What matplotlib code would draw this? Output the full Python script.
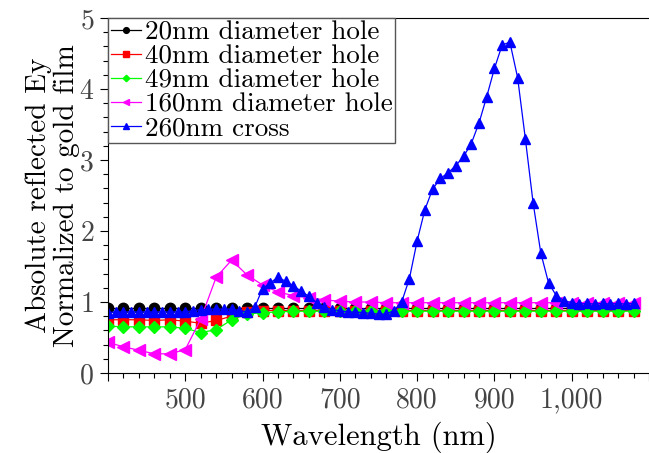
import matplotlib
matplotlib.use('Agg')
import matplotlib.pyplot as plt
from matplotlib.ticker import MultipleLocator, FuncFormatter

# wavelength grids (nm)
wl_hole = list(range(400, 1090, 20))
wl_cross = list(range(400, 1090, 10))

hole_20 = [0.92, 0.92, 0.92, 0.92, 0.92, 0.92, 0.92, 0.92, 0.92, 0.92,
           0.92, 0.92, 0.92, 0.92, 0.92, 0.92, 0.92, 0.92, 0.92, 0.92,
           0.92, 0.92, 0.92, 0.92, 0.92, 0.92, 0.92, 0.92, 0.92, 0.92,
           0.92, 0.92, 0.92, 0.92, 0.92]
hole_40 = [0.75, 0.75, 0.75, 0.74, 0.75, 0.73, 0.70, 0.74, 0.80, 0.86,
           0.88, 0.88, 0.88, 0.88, 0.88, 0.88, 0.88, 0.88, 0.88, 0.88,
           0.88, 0.88, 0.88, 0.88, 0.88, 0.88, 0.88, 0.88, 0.88, 0.88,
           0.88, 0.88, 0.88, 0.88, 0.88]
hole_49 = [0.66, 0.65, 0.65, 0.65, 0.65, 0.63, 0.57, 0.61, 0.75, 0.83,
           0.85, 0.86, 0.87, 0.87, 0.87, 0.87, 0.87, 0.87, 0.87, 0.87,
           0.87, 0.87, 0.87, 0.87, 0.87, 0.87, 0.87, 0.87, 0.87, 0.87,
           0.87, 0.87, 0.87, 0.87, 0.87]
hole_160 = [0.43, 0.37, 0.32, 0.27, 0.27, 0.33, 0.76, 1.35, 1.59, 1.38,
            1.24, 1.14, 1.09, 1.06, 1.03, 1.01, 1.00, 1.00, 0.99, 0.99,
            0.99, 0.99, 0.99, 0.99, 0.99, 0.99, 0.99, 0.99, 0.99, 0.99,
            0.99, 0.99, 0.99, 0.99, 0.99]
cross_260 = [0.85, 0.86, 0.86, 0.86, 0.86, 0.86, 0.86, 0.86, 0.86, 0.86,
             0.86, 0.88, 0.89, 0.90, 0.90, 0.90, 0.90, 0.88, 0.86, 0.93,
             1.19, 1.27, 1.35, 1.29, 1.23, 1.15, 1.08, 0.99, 0.93, 0.89,
             0.88, 0.86, 0.86, 0.85, 0.84, 0.83, 0.83, 0.88, 1.00, 1.33,
             1.86, 2.30, 2.59, 2.74, 2.82, 2.92, 3.05, 3.23, 3.52, 3.89,
             4.29, 4.62, 4.66, 4.16, 3.30, 2.40, 1.69, 1.27, 1.09, 1.02,
             0.99, 0.97, 0.98, 0.97, 0.98, 0.97, 0.98, 0.97, 0.98]

labels = ['20nm diameter hole', '40nm diameter hole', '49nm diameter hole',
          '160nm diameter hole', '260nm cross']

plt.rcParams['font.family'] = ['cmr10', 'DejaVu Serif']
plt.rcParams['axes.formatter.use_mathtext'] = True

fig = plt.figure(figsize=(6.49, 4.53), dpi=100)
ax = fig.add_axes([108/649, 80/453, 1 - 108/649, (373 - 18)/453])

ax.plot(wl_hole, hole_20, color='black', marker='o', ms=7.5, lw=0.9, label=labels[0])
ax.plot(wl_hole, hole_40, color='red', marker='s', ms=7.5, lw=0.9, label=labels[1])
ax.plot(wl_hole, hole_49, color='#00ff00', marker='D', ms=6, lw=0.9, label=labels[2])
ax.plot(wl_hole, hole_160, color='magenta', marker='<', ms=8, lw=0.9, label=labels[3])
ax.plot(wl_cross, cross_260, color='blue', marker='^', ms=7, lw=0.9, label=labels[4])

ax.set_xlim(400, 1100)
ax.set_ylim(0, 5)
ax.xaxis.set_major_locator(MultipleLocator(100))
ax.xaxis.set_minor_locator(MultipleLocator(20))
ax.yaxis.set_major_locator(MultipleLocator(1))
ax.yaxis.set_minor_locator(MultipleLocator(0.2))
ax.xaxis.set_major_formatter(FuncFormatter(lambda v, p: '' if v <= 400 or v >= 1100 else '{:,.0f}'.format(v)))
ax.tick_params(which='major', length=6, width=0.8, labelsize=20, labelcolor='#444444', pad=4)
ax.tick_params(which='minor', length=3.5, width=0.8)
ax.spines['right'].set_visible(False)

ax.set_xlabel('Wavelength (nm)', fontsize=22, labelpad=6)
ax.set_ylabel('Absolute reflected Ey\nNormalized to gold film', fontsize=21, labelpad=-1, linespacing=1.1)

leg = ax.legend(loc='upper left', borderaxespad=0, fontsize=19.5, markerscale=0.55,
                handlelength=1.1, handletextpad=0.15, labelspacing=0.0,
                borderpad=0.1, fancybox=False, framealpha=1)
leg.get_frame().set_edgecolor('#555555')
leg.get_frame().set_linewidth(1.0)

fig.savefig('out.png', dpi=100)
